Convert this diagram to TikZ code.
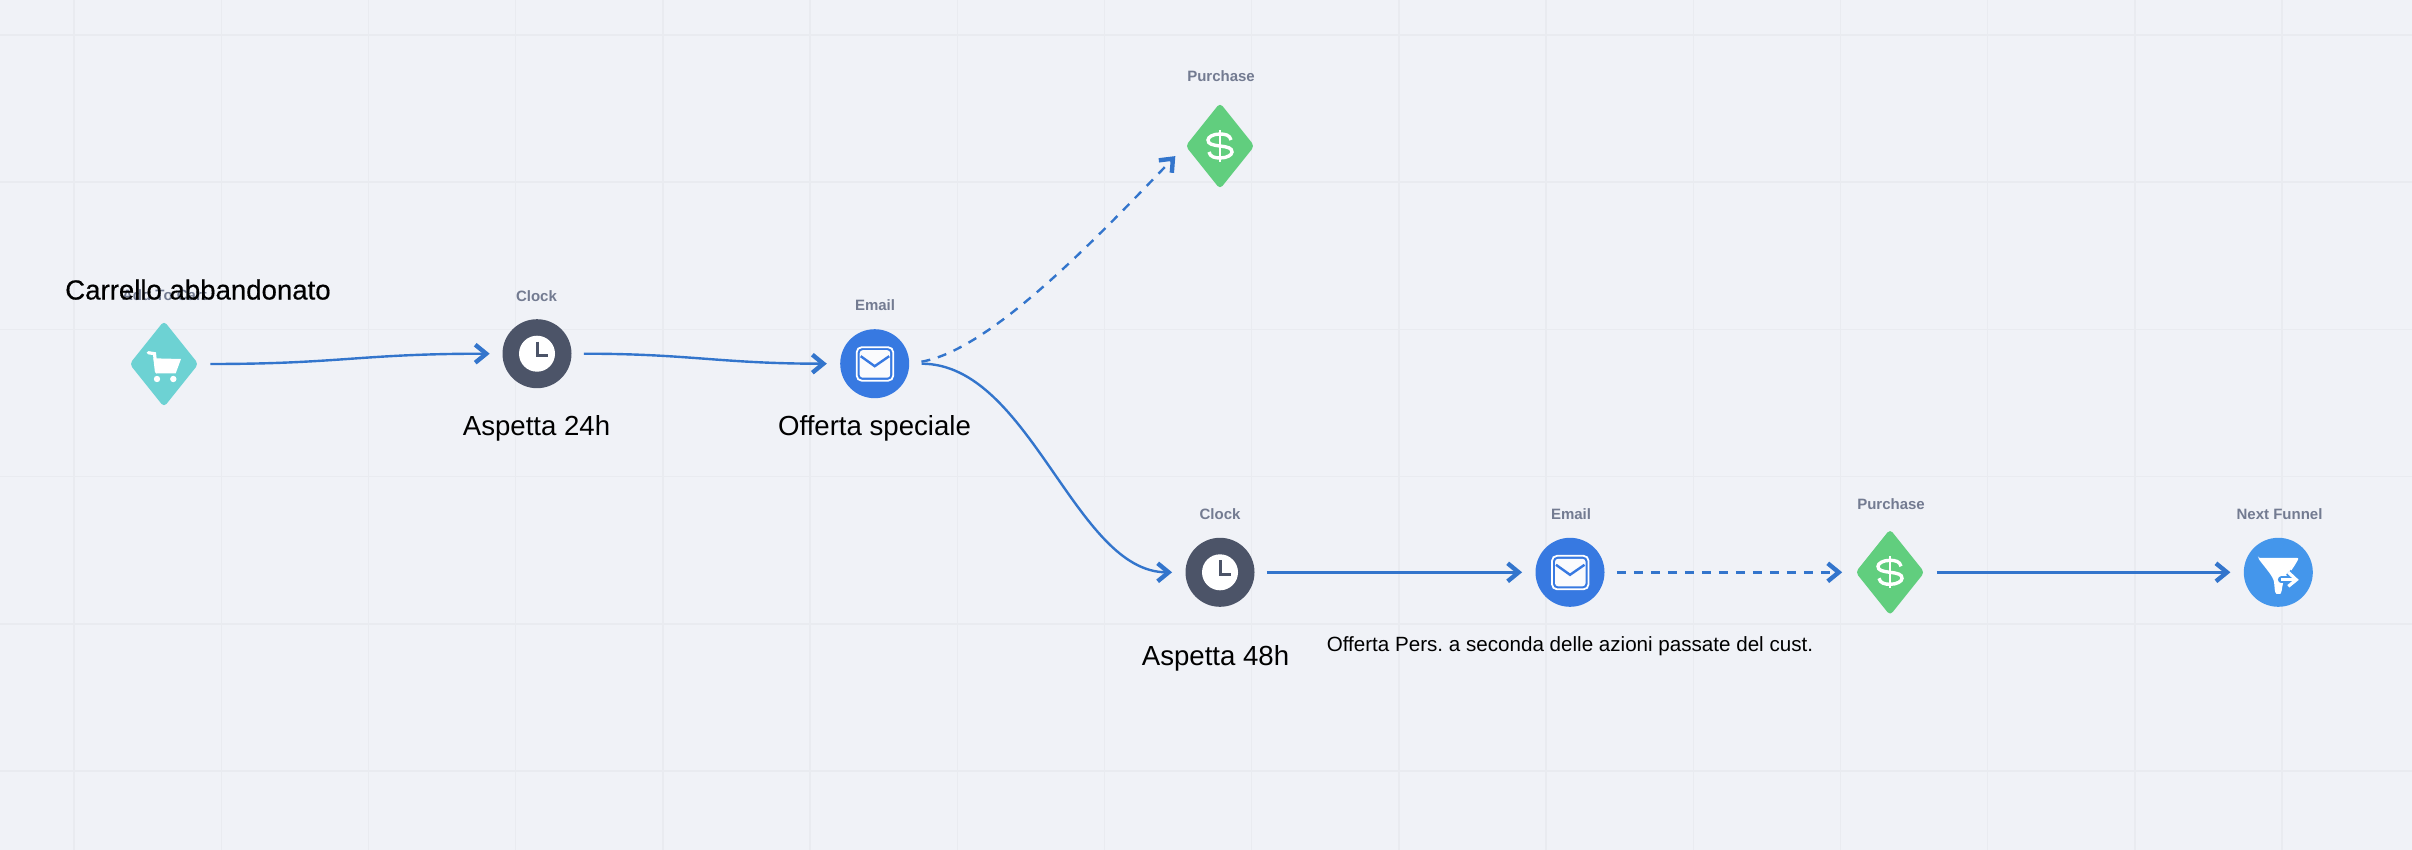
\documentclass[tikz,border=0pt]{standalone}
\usepackage{fontspec}
\setmainfont{Liberation Sans}
\usetikzlibrary{arrows.meta,shapes.geometric}
\definecolor{bgc}{HTML}{F0F2F7}
\definecolor{gridc}{HTML}{E9EBF0}
\definecolor{tealc}{HTML}{6DD2D3}
\definecolor{darkc}{HTML}{4C5468}
\definecolor{bluec}{HTML}{3779E1}
\definecolor{greenc}{HTML}{61CE7E}
\definecolor{funnelc}{HTML}{4496EB}
\definecolor{linec}{HTML}{3375CC}
\definecolor{labelc}{HTML}{737B91}
\frenchspacing
\tikzset{
  x=0.5pt,y=-0.5pt,
  gridline/.style={gridc,line width=0.7pt},
  roundnode/.style={circle,minimum size=34.5pt,inner sep=0pt,fill=#1},
  gemnode/.style={diamond,minimum width=34.6pt,minimum height=43.2pt,inner sep=0pt,fill=#1,rounded corners=2pt},
  steplabel/.style={text=labelc,font=\bfseries\fontsize{7.5}{9}\selectfont,anchor=base,inner sep=0pt},
  bigcaption/.style={text=black,font=\fontsize{13.8}{16}\selectfont,anchor=base,inner sep=0pt},
  smallcaption/.style={text=black,font=\fontsize{10.3}{12}\selectfont,anchor=base west,inner sep=0pt},
  flow/.style={linec,line width=1.2pt,-{Straight Barb[length=5.5pt,width=9pt,line width=2.2pt]},shorten <=#1},
  flow/.default=6pt,
  dashflow/.style={flow=#1,dash pattern=on 4.5pt off 4pt},
  dashflow/.default=6pt,
  pics/clockicon/.style={code={
    \fill[white] (0,0) circle[radius=9pt];
    \draw[darkc,line width=1.5pt] (0,-12) -- (0,2) -- (10.5,2);
  }},
  pics/mailicon/.style={code={
    \draw[white,line width=0.9pt,rounded corners=2.5pt] (-18,-16.5) rectangle (18.5,17);
    \fill[white!70!bgc,rounded corners=1.5pt] (-15,-13.5) rectangle (15.5,14);
    \draw[bluec,line width=1.2pt] (-14,-7.5) -- (0,2.5) -- (14.5,-7.5);
  }},
  pics/dollaricon/.style={code={
    \draw[white,line width=1.7pt] (11,-6) .. controls (10,-11) and (5,-12) .. (0,-12)
      .. controls (-7,-12) and (-12,-9) .. (-12,-6)
      .. controls (-12,-2) and (-8,-1) .. (0,0)
      .. controls (8,1) and (12,2) .. (12,6)
      .. controls (12,9) and (7,12) .. (0,12)
      .. controls (-5,12) and (-10,11) .. (-11,6);
    \draw[white,line width=1.3pt] (0,-16) -- (0,16);
  }},
  pics/carticon/.style={code={
    \draw[white,line width=1.6pt,line cap=round] (-15.7,-11.3) -- (-9.5,-10.3) -- (-7.5,8);
    \fill[white] (-10.7,-5.7) -- (17,-5) -- (11.7,9.3) -- (-7.3,9.3) -- cycle;
    \fill[white] (-7,15) circle[radius=1.6pt] (9.3,15) circle[radius=1.6pt];
  }},
  pics/funnelicon/.style={code={
    \fill[white,rounded corners=1pt] (-20.5,-14.5) -- (20.7,-14.5)
      .. controls (14,-2) and (6,7) .. (4,13)
      .. controls (3.5,20) and (2,21.5) .. (0,21.5)
      .. controls (-3,21.5) and (-3.5,19) .. (-4,12)
      .. controls (-5,4) and (-12,-3) .. cycle;
    \draw[funnelc,line width=3.4pt,line cap=round] (3,7.5) -- (16,7.5);
    \draw[funnelc,line width=3.4pt,line join=round] (10,0) -- (18,7.5) -- (10,14);
    \draw[white,line width=1.6pt] (3,7.5) -- (17,7.5);
    \draw[white,line width=1.6pt] (10,0) -- (18,7.5) -- (10,14);
  }},
}
\begin{document}
\begin{tikzpicture}
\useasboundingbox (0,0) rectangle (2412,850);
\fill[bgc] (0,0) rectangle (2412,850);
\foreach \k in {0,...,15} \draw[gridline] ({74+147.2*\k},0) -- ({74+147.2*\k},850);
\foreach \k in {0,...,5} \draw[gridline] (0,{35+147.2*\k}) -- (2412,{35+147.2*\k});

\node[gemnode=tealc] (cart) at (164,364) {};
\node[roundnode=darkc] (clockA) at (537,353.7) {};
\node[roundnode=bluec] (mailA) at (874.7,363.7) {};
\node[gemnode=greenc] (buyA) at (1220,146) {};
\node[roundnode=darkc] (clockB) at (1220,572.3) {};
\node[roundnode=bluec] (mailB) at (1570,572.3) {};
\node[gemnode=greenc] (buyB) at (1890,572.3) {};
\node[roundnode=funnelc] (next) at (2278.3,572.3) {};

\pic at (cart) {carticon};
\pic at (clockA) {clockicon};
\pic at (clockB) {clockicon};
\pic at (mailA) {mailicon};
\pic at (mailB) {mailicon};
\pic at (buyA) {dollaricon};
\pic at (buyB) {dollaricon};
\pic at (next) {funnelicon};

\draw[flow=5.7pt,shorten >=6.2pt] (cart.east) .. controls (340,364) and (360,353.7) .. (clockA.west);
\draw[flow,shorten >=6.5pt] (clockA.east) .. controls (690,353.7) and (720,363.7) .. (mailA.west);
\draw[dashflow,shorten >=7pt] (mailA.east) .. controls (990,350) and (1095,240) .. (buyA.west);
\draw[flow,shorten >=6.5pt] (mailA.east) .. controls (1030,363.7) and (1075,572.3) .. (clockB.west);
\draw[flow,shorten >=6.5pt] (clockB.east) -- (mailB.west);
\draw[dashflow,shorten >=6.4pt] (mailB.east) -- (buyB.west);
\draw[flow=5.9pt,shorten >=6.5pt] (buyB.east) -- (next.west);

\node[steplabel] (lcart) at (164.5,300) {Add To Cart};
\node[steplabel] (lclockA) at (536.5,301) {Clock};
\node[steplabel] (lmailA) at (875,310.5) {Email};
\node[steplabel] (lbuyA) at (1221,82) {Purchase};
\node[steplabel] (lclockB) at (1220,519) {Clock};
\node[steplabel] (lmailB) at (1571,519) {Email};
\node[steplabel] (lbuyB) at (1891,509) {Purchase};
\node[steplabel] (lnext) at (2279.5,519) {Next Funnel};

\node[bigcaption] (tcart) at (198,299.5) {\addfontfeatures{FakeBold=0.4}Carrello abbandonato};
\node[bigcaption] (tclockA) at (536.5,435) {Aspetta 24h};
\node[bigcaption] (tmailA) at (874.5,435) {Offerta speciale};
\node[bigcaption] (tclockB) at (1215.5,665.5) {Aspetta 48h};
\node[smallcaption] (tmailB) at (1326.4,651) {Offerta Pers. a seconda delle azioni passate del cust.};
\end{tikzpicture}
\end{document}
